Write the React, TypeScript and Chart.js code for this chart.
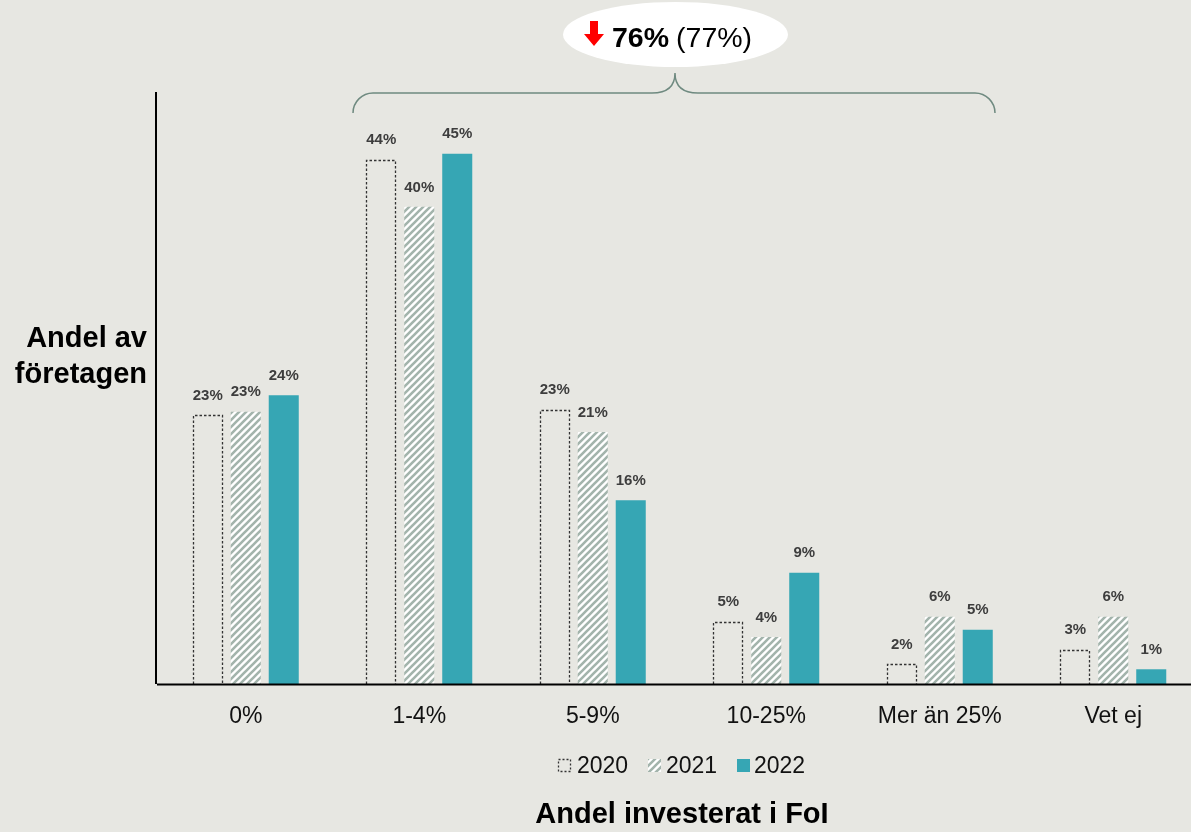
import { useEffect, useRef } from 'react';
import { Chart, registerables } from 'chart.js';

Chart.register(...registerables);

const categories = ['0%', '1-4%', '5-9%', '10-25%', 'Mer än 25%', 'Vet ej'];
const seriesNames = ['2020', '2021', '2022'];
const values2020 = [22.8, 44.5, 23.3, 5.3, 1.7, 2.9];
const values2021 = [23.1, 40.5, 21.4, 4.0, 5.7, 5.7];
const values2022 = [24.5, 45.0, 15.6, 9.45, 4.6, 1.25];
const labels2020 = ['23%', '44%', '23%', '5%', '2%', '3%'];
const labels2021 = ['23%', '40%', '21%', '4%', '6%', '6%'];
const labels2022 = ['24%', '45%', '16%', '9%', '5%', '1%'];
const yTitleLines = ['Andel av', 'företagen'];
const xTitle = 'Andel investerat i FoI';
const bubbleMain = '76%';
const bubbleSub = '(77%)';

const BG = '#e7e7e2';
const TEAL = '#36a6b4';
const HATCH = '#a3b4ac';
const LABEL = '#3d3d3d';
const BRACKET = '#6f8a80';
const FONT = '"Liberation Sans", Arial, sans-serif';

export default function App() {
  const ref = useRef<HTMLCanvasElement>(null);

  useEffect(() => {
    document.body.style.margin = '0';
    document.body.style.background = BG;
    document.body.style.overflow = 'hidden';
    const canvas = ref.current!;
    const tile = document.createElement('canvas');
    tile.width = 7;
    tile.height = 7;
    const t = tile.getContext('2d')!;
    t.fillStyle = '#ffffff';
    t.fillRect(0, 0, 7, 7);
    t.strokeStyle = HATCH;
    t.lineWidth = 2.6;
    t.beginPath();
    t.moveTo(-1, 8); t.lineTo(8, -1);
    t.moveTo(-1, 1); t.lineTo(1, -1);
    t.moveTo(6, 8); t.lineTo(8, 6);
    t.stroke();
    const pattern = canvas.getContext('2d')!.createPattern(tile, 'repeat')!;

    const allLabels = [labels2020, labels2021, labels2022];

    const decor = {
      id: 'decor',
      beforeDraw(chart: any) {
        const c = chart.ctx;
        c.save();
        c.fillStyle = BG;
        c.fillRect(0, 0, chart.width, chart.height);
        c.restore();
      },
      afterDatasetsDraw(chart: any) {
        const c = chart.ctx;
        c.save();
        // dashed 2020 bars
        const m0 = chart.getDatasetMeta(0);
        c.strokeStyle = '#333';
        c.lineWidth = 1.3;
        c.setLineDash([2.5, 2]);
        m0.data.forEach((el: any) => {
          const p = el.getProps(['x', 'y', 'base', 'width'], true);
          const l = Math.round(p.x - p.width / 2) + 0.5;
          const r = Math.round(p.x + p.width / 2) - 0.5;
          const tp = Math.round(p.y) + 0.5;
          c.beginPath();
          c.moveTo(l, p.base);
          c.lineTo(l, tp);
          c.lineTo(r, tp);
          c.lineTo(r, p.base);
          c.stroke();
        });
        c.setLineDash([]);
        // value labels
        c.fillStyle = LABEL;
        c.font = `bold 15px ${FONT}`;
        c.textAlign = 'center';
        c.textBaseline = 'middle';
        [0, 1, 2].forEach((di) => {
          const meta = chart.getDatasetMeta(di);
          meta.data.forEach((el: any, i: number) => {
            const p = el.getProps(['x', 'y'], true);
            c.fillText(allLabels[di][i], p.x, p.y - 19.5);
          });
        });
        // axes
        const ca = chart.chartArea;
        c.strokeStyle = '#000';
        c.lineWidth = 2;
        c.beginPath();
        c.moveTo(156, 92);
        c.lineTo(156, ca.bottom);
        c.moveTo(157, ca.bottom + 0.5);
        c.lineTo(chart.width, ca.bottom + 0.5);
        c.stroke();
        // bracket
        c.strokeStyle = BRACKET;
        c.lineWidth = 1.5;
        c.beginPath();
        c.moveTo(353, 113);
        c.arcTo(353, 93, 373, 93, 20);
        c.lineTo(652, 93);
        c.bezierCurveTo(668, 93, 675, 86, 675, 73);
        c.bezierCurveTo(675, 86, 682, 93, 698, 93);
        c.lineTo(975, 93);
        c.arcTo(995, 93, 995, 113, 20);
        c.stroke();
        // bubble
        c.fillStyle = '#ffffff';
        c.beginPath();
        c.ellipse(675.5, 34.5, 112.5, 32.5, 0, 0, Math.PI * 2);
        c.fill();
        // red arrow
        c.fillStyle = '#ff0000';
        c.beginPath();
        c.moveTo(590, 21);
        c.lineTo(598, 21);
        c.lineTo(598, 34);
        c.lineTo(604, 34);
        c.lineTo(594, 46);
        c.lineTo(584, 34);
        c.lineTo(590, 34);
        c.closePath();
        c.fill();
        c.fillStyle = '#000';
        c.textAlign = 'left';
        c.textBaseline = 'alphabetic';
        c.font = `bold 28.5px ${FONT}`;
        c.fillText(bubbleMain, 612, 47);
        const w = c.measureText(bubbleMain).width;
        c.font = `28.5px ${FONT}`;
        c.fillText(bubbleSub, 612 + w + 7, 47);
        // y title
        c.font = `bold 29px ${FONT}`;
        c.textAlign = 'right';
        c.fillText(yTitleLines[0], 147, 347);
        c.fillText(yTitleLines[1], 147, 383);
        // x title
        c.textAlign = 'center';
        c.textBaseline = 'middle';
        c.fillText(xTitle, 682, 815);
        // legend
        const ly = 765.5;
        const items = [
          { x: 558, tx: 577 },
          { x: 648, tx: 666 },
          { x: 737, tx: 754 },
        ];
        c.font = `23px ${FONT}`;
        c.textAlign = 'left';
        items.forEach((it, i) => {
          const bx = it.x, by = ly - 6.5;
          if (i === 0) {
            c.strokeStyle = '#333';
            c.lineWidth = 1.3;
            c.setLineDash([2, 2]);
            c.strokeRect(bx + 0.5, by + 0.5, 12, 12);
            c.setLineDash([]);
          } else if (i === 1) {
            c.fillStyle = pattern;
            c.fillRect(bx, by, 13, 13);
          } else {
            c.fillStyle = TEAL;
            c.fillRect(bx, by, 13, 13);
          }
          c.fillStyle = '#111';
          c.fillText(seriesNames[i], it.tx, ly + 1);
        });
        c.restore();
      },
    };

    const chart = new Chart(canvas, {
      type: 'bar',
      data: {
        labels: categories,
        datasets: [
          { label: seriesNames[0], data: values2020, backgroundColor: 'rgba(0,0,0,0)', borderWidth: 0 },
          { label: seriesNames[1], data: values2021, backgroundColor: pattern as any, borderWidth: 0 },
          { label: seriesNames[2], data: values2022, backgroundColor: TEAL, borderWidth: 0 },
        ],
      },
      options: {
        responsive: false,
        animation: false,
        devicePixelRatio: 1,
        layout: { padding: { left: 159, right: 0, top: 92, bottom: 0 } },
        datasets: { bar: { barPercentage: 0.79, categoryPercentage: 0.657 } },
        plugins: { legend: { display: false }, tooltip: { enabled: false } },
        scales: {
          x: {
            grid: { display: false },
            border: { display: false },
            ticks: { color: '#111', font: { family: FONT, size: 23 }, padding: 11, maxRotation: 0, autoSkip: false },
            afterFit: (s: any) => { s.height = 148; },
          },
          y: {
            display: false,
            min: 0,
            max: 50.25,
          },
        },
      },
      plugins: [decor],
    });
    return () => chart.destroy();
  }, []);

  return (
    <div style={{ width: 1191, height: 832, overflow: 'hidden' }}>
      <canvas ref={ref} width={1200} height={832} style={{ display: 'block' }} />
    </div>
  );
}
